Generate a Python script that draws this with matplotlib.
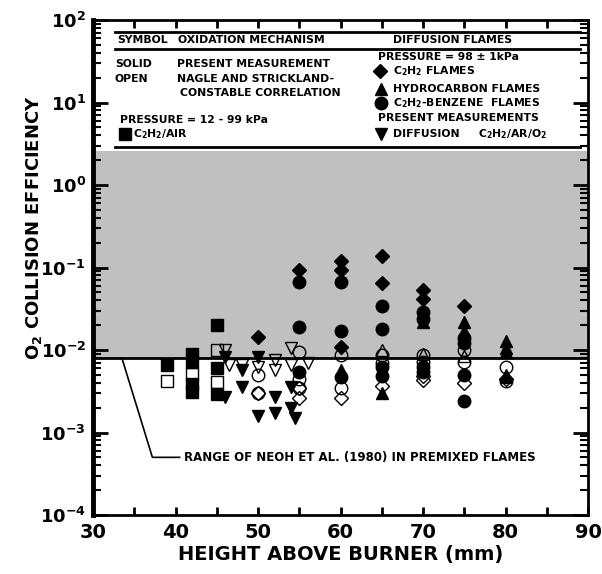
# O2 collision efficiency vs height above burner
import numpy as np
import matplotlib
matplotlib.use("Agg")
import matplotlib.pyplot as plt

plt.rcParams['font.family'] = ['DejaVu Sans']
plt.rcParams['font.weight'] = 'bold'
plt.rcParams['mathtext.fontset'] = 'custom'
plt.rcParams['mathtext.default'] = 'regular'
plt.rcParams['mathtext.rm'] = 'DejaVu Sans:bold'
plt.rcParams['mathtext.bf'] = 'DejaVu Sans:bold'

# solid = present measurement, open = Nagle & Strickland-Constable
sq_x = [39, 42, 42, 42, 42, 45, 45, 45]
sq_y = [0.0066, 0.0090, 0.0072, 0.0039, 0.0031, 0.020, 0.0060, 0.0029]
sq_open_x = [39, 42, 45, 45]
sq_open_y = [0.0042, 0.0051, 0.0100, 0.0041]

dia_x = [50, 55, 60, 60, 60, 65, 65, 70, 70, 75]
dia_y = [0.0145, 0.094, 0.12, 0.094, 0.011, 0.136, 0.065, 0.053, 0.041, 0.034]
dia_open_x = [50, 55, 55, 60, 65, 70, 70, 75, 80]
dia_open_y = [0.0030, 0.0035, 0.0026, 0.0026, 0.0037, 0.0043, 0.0048, 0.0040, 0.0045]

tri_x = [60, 65, 70, 70, 75, 75, 80, 80, 80, 80]
tri_y = [0.0058, 0.0030, 0.029, 0.022, 0.022, 0.017, 0.013, 0.0106, 0.0095, 0.0047]
tri_open_x = [65, 70, 75, 80]
tri_open_y = [0.0100, 0.0090, 0.0085, 0.0050]

circ_x = [55, 55, 55, 60, 60, 60, 65, 65, 65, 65, 70, 70, 70, 70, 75, 75, 75, 75]
circ_y = [0.067, 0.019, 0.0054, 0.067, 0.017, 0.0047, 0.034, 0.018, 0.0063, 0.0048,
          0.029, 0.024, 0.0063, 0.0054, 0.014, 0.012, 0.0050, 0.0024]
circ_open_x = [50, 50, 55, 55, 55, 60, 60, 65, 65, 70, 70, 75, 75, 80, 80]
circ_open_y = [0.0050, 0.0030, 0.0095, 0.0045, 0.0035, 0.0087, 0.0035, 0.0087, 0.0070,
               0.0087, 0.0072, 0.0101, 0.0072, 0.0063, 0.0042]

dtri_x = [46, 46, 48, 48, 50, 50, 52, 52, 54, 54, 54.5]
dtri_y = [0.0082, 0.0027, 0.0058, 0.0036, 0.0082, 0.0016, 0.0027, 0.0017, 0.0036, 0.0020, 0.0015]
dtri_open_x = [46, 46.5, 48, 50, 52, 52, 54, 54, 56]
dtri_open_y = [0.0100, 0.0066, 0.0066, 0.0063, 0.0075, 0.0058, 0.0105, 0.0066, 0.0070]

yticks = [1e-4, 1e-3, 1e-2, 1e-1, 1e0, 1e1, 1e2]
ytick_labels = ['$10^{-4}$', '$10^{-3}$', '$10^{-2}$', '$10^{-1}$', '$10^{0}$', '$10^{1}$', '$10^{2}$']

fig = plt.figure(figsize=(6.02, 5.74), dpi=100)
ax = fig.add_axes([93/602, 1-515/574, 495/602, 495/574])
ax.set_yscale('log')
ax.set_xlim(30, 90)
ax.set_ylim(1e-4, 1e2)

# shaded range
ax.axhspan(0.008, 2.6, color='#c0c0c0', zorder=0, lw=0)
ax.axhline(0.008, color='black', lw=2, zorder=1)

ms = 8.5
def solid(x, y, m, s=ms):
    ax.plot(x, y, ls='none', marker=m, ms=s, mfc='black', mec='black', zorder=3)
def opn(x, y, m, s=ms):
    ax.plot(x, y, ls='none', marker=m, ms=s, mfc='none', mec='black', mew=1.0, zorder=4)

solid(sq_x, sq_y, 's', 8)
opn(sq_open_x, sq_open_y, 's', 8)
solid(dia_x, dia_y, 'D', 7.5)
opn(dia_open_x, dia_open_y, 'D', 7.5)
solid(tri_x, tri_y, '^')
opn(tri_open_x, tri_open_y, '^')
solid(circ_x, circ_y, 'o', 9)
opn(circ_open_x, circ_open_y, 'o', 9)
solid(dtri_x, dtri_y, 'v')
opn(dtri_open_x, dtri_open_y, 'v')

# Neoh et al. range pointer
ax.plot([33.5, 37.2, 40.5], [0.008, 5e-4, 5e-4], color='black', lw=1.2, zorder=2)
ax.text(41.0, 5e-4, 'RANGE OF NEOH ET AL. (1980) IN PREMIXED FLAMES',
        fontsize=8.5, fontweight='bold', va='center', ha='left')

# legend box
T = ax.transAxes
for yy in [0.9758, 0.9414, 0.7434]:
    ax.plot([0.0444, 0.9838], [yy, yy], color='black', lw=2, transform=T, clip_on=False)
fs = 7.8
def t(x, y, s):
    ax.text(x, y, s, transform=T, fontsize=fs, fontweight='bold', va='center', ha='left')
t(0.0485, 0.9596, 'SYMBOL')
t(0.1717, 0.9596, 'OXIDATION MECHANISM')
t(0.606, 0.9596, 'DIFFUSION FLAMES')
t(0.0444, 0.9111, 'SOLID')
t(0.1697, 0.9111, 'PRESENT MEASUREMENT')
t(0.0444, 0.8808, 'OPEN')
t(0.1697, 0.8808, 'NAGLE AND STRICKLAND-')
t(0.1758, 0.8525, 'CONSTABLE CORRELATION')
t(0.5758, 0.9253, 'PRESSURE = 98 ± 1kPa')
t(0.606, 0.897, 'C$_2$H$_2$ FLAMES')
t(0.606, 0.8606, 'HYDROCARBON FLAMES')
t(0.606, 0.8323, 'C$_2$H$_2$-BENZENE  FLAMES')
t(0.0545, 0.798, 'PRESSURE = 12 - 99 kPa')
t(0.0808, 0.7697, 'C$_2$H$_2$/AIR')
t(0.5758, 0.802, 'PRESENT MEASUREMENTS')
t(0.606, 0.7697, 'DIFFUSION')
t(0.7778, 0.7697, 'C$_2$H$_2$/AR/O$_2$')
for (lx, ly, m, s) in [(0.5798, 0.897, 'D', 7), (0.5818, 0.8606, '^', 8.5),
                       (0.5818, 0.8323, 'o', 9), (0.0646, 0.7697, 's', 8),
                       (0.5818, 0.7697, 'v', 8.5)]:
    ax.plot([lx], [ly], marker=m, ms=s, color='black', transform=T, clip_on=False)

# axes styling
for side in ['top', 'right', 'bottom']:
    ax.spines[side].set_linewidth(2)
ax.spines['left'].set_linewidth(3.5)
ax.set_xticks(range(30, 91, 10))
ax.set_xticks(range(35, 90, 10), minor=True)
ax.set_yticks(yticks)
ax.set_yticklabels(ytick_labels)
ax.tick_params(axis='x', which='both', direction='in', top=True, length=6, width=2,
               labelsize=14, pad=6)
ax.tick_params(axis='y', which='major', direction='in', right=True, length=11, width=2,
               labelsize=13, pad=5)
ax.tick_params(axis='y', which='minor', direction='in', right=True, length=6, width=1.5)
for lab in ax.get_xticklabels() + ax.get_yticklabels():
    lab.set_fontweight('bold')

ax.set_xlabel('HEIGHT ABOVE BURNER (mm)', fontsize=14, fontweight='bold', labelpad=2)
ax.set_ylabel('O$_2$ COLLISION EFFICIENCY', fontsize=13, fontweight='bold')
ax.yaxis.set_label_coords(-0.10, 0.58)

fig.savefig('out.png', dpi=100)
